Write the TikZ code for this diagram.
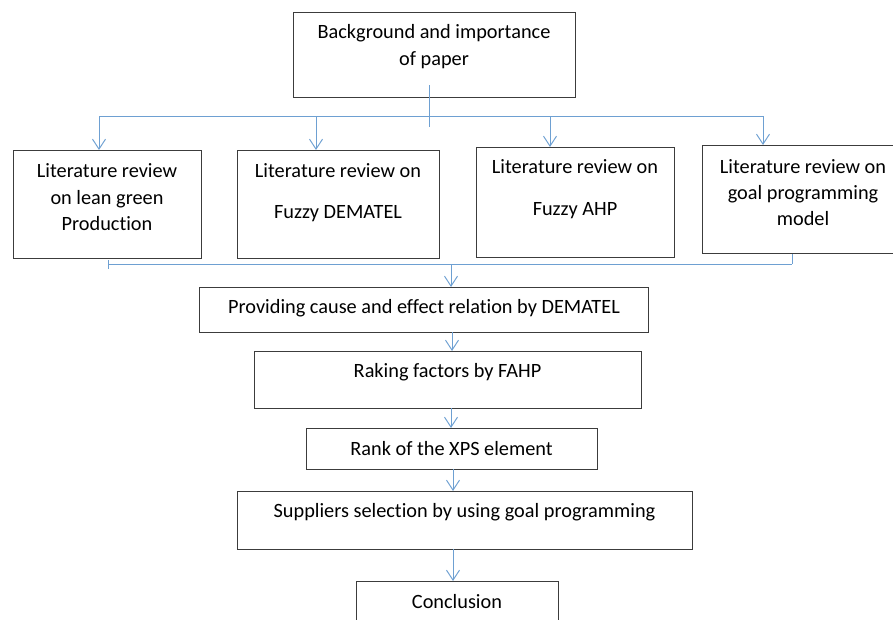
\documentclass[tikz,border=0pt]{standalone}
\usepackage{fontspec}
\setmainfont{Carlito}[Ligatures=NoCommon]
\usetikzlibrary{arrows.meta}
\definecolor{conncol}{RGB}{110,160,210}
\definecolor{boxcol}{RGB}{60,60,60}
\tikzset{
  box/.style={draw=boxcol, line width=1.2pt, inner sep=0pt, anchor=north west},
  txt/.style={anchor=base, inner sep=0pt, font=\fontsize{20.3}{24}\selectfont, text=black},
  conn/.style={draw=conncol, line width=0.95pt},
  arr/.style={conn, -{Straight Barb[length=10pt,width=13pt,line width=0.95pt]}},
}
\begin{document}
\begin{tikzpicture}[x=1pt,y=-1pt]
\useasboundingbox (0,0) rectangle (893,619);
\clip (0,0) rectangle (893,619);
\fill[white] (0,0) rectangle (893,619);

% boxes
\node[box, minimum width=282pt, minimum height=85pt] (tb) at (293,12) {};
\node[box, minimum width=188pt, minimum height=108pt] (b1) at (13,150) {};
\node[box, minimum width=202pt, minimum height=108pt] (b2) at (237,150) {};
\node[box, minimum width=198pt, minimum height=110pt] (b3) at (476,147) {};
\node[box, minimum width=202pt, minimum height=108pt] (b4) at (702,145) {};
\node[box, minimum width=449pt, minimum height=45pt] (p1) at (199,287) {};
\node[box, minimum width=387pt, minimum height=57pt] (p2) at (254,351) {};
\node[box, minimum width=291pt, minimum height=41pt] (p3) at (306,428) {};
\node[box, minimum width=455pt, minimum height=58pt] (p4) at (237,491) {};
\node[box, minimum width=202pt, minimum height=60pt] (p5) at (356,581) {};

% texts
\node[txt] (t0a) at (434,38) {Background and importance};
\node[txt] (t0b) at (434,65) {of paper};
\node[txt] (t1a) at (107,177) {Literature review};
\node[txt] (t1b) at (107,204) {on lean green};
\node[txt] (t1c) at (107,230) {Production};
\node[txt] (t2a) at (338,177) {Literature review on};
\node[txt] (t2b) at (338,218) {Fuzzy DEMATEL};
\node[txt] (t3a) at (575,173) {Literature review on};
\node[txt] (t3b) at (575,215) {Fuzzy AHP};
\node[txt] (t4a) at (803,173) {Literature review on};
\node[txt] (t4b) at (803,199) {goal programming};
\node[txt] (t4c) at (803,225) {model};
\node[txt] (tp1) at (424,313) {Providing cause and effect relation by DEMATEL};
\node[txt] (tp2) at (447.5,377) {Raking factors by FAHP};
\node[txt] (tp3) at (451.5,455) {Rank of the XPS element};
\node[txt] (tp4) at (464.5,517) {Suppliers selection by using goal programming};
\node[txt] (tp5) at (457,608) {Conclusion};

% top distribution bus
\coordinate (s0) at (429,85);
\coordinate (s1) at (429,127);
\coordinate (hL) at (99,116);
\coordinate (hR) at (763,116);
\coordinate (h2) at (316,116);
\coordinate (h3) at (550,116);
\draw[conn] (s0) -- (s1);
\draw[conn] (hL) -- (hR);
\draw[arr] (hL) -- (hL |- b1.north);
\draw[arr] (h2) -- (h2 |- b2.north);
\draw[arr] (h3) -- (h3 |- b3.north);
\draw[arr] (hR) -- (hR |- b4.north);

% bottom collecting bus
\coordinate (gL) at (108,264);
\coordinate (gR) at (792,264);
\coordinate (gLa) at (108,260);
\coordinate (gLb) at (108,269);
\coordinate (gM) at (451,264);
\draw[conn] (gL) -- (gR);
\draw[conn] (gLa) -- (gLb);
\draw[conn] (gR |- b4.south) -- (gR);
\draw[arr] (gM) -- (gM |- p1.north);

% chain
\coordinate (c1) at (452,332);
\coordinate (c2) at (451,408);
\coordinate (c3) at (453,469);
\coordinate (c4) at (453,549);
\draw[arr] (c1) -- (c1 |- p2.north);
\draw[arr] (c2) -- (c2 |- p3.north);
\draw[arr] (c3) -- (c3 |- p4.north);
\draw[arr] (c4) -- (c4 |- p5.north);
\end{tikzpicture}
\end{document}
